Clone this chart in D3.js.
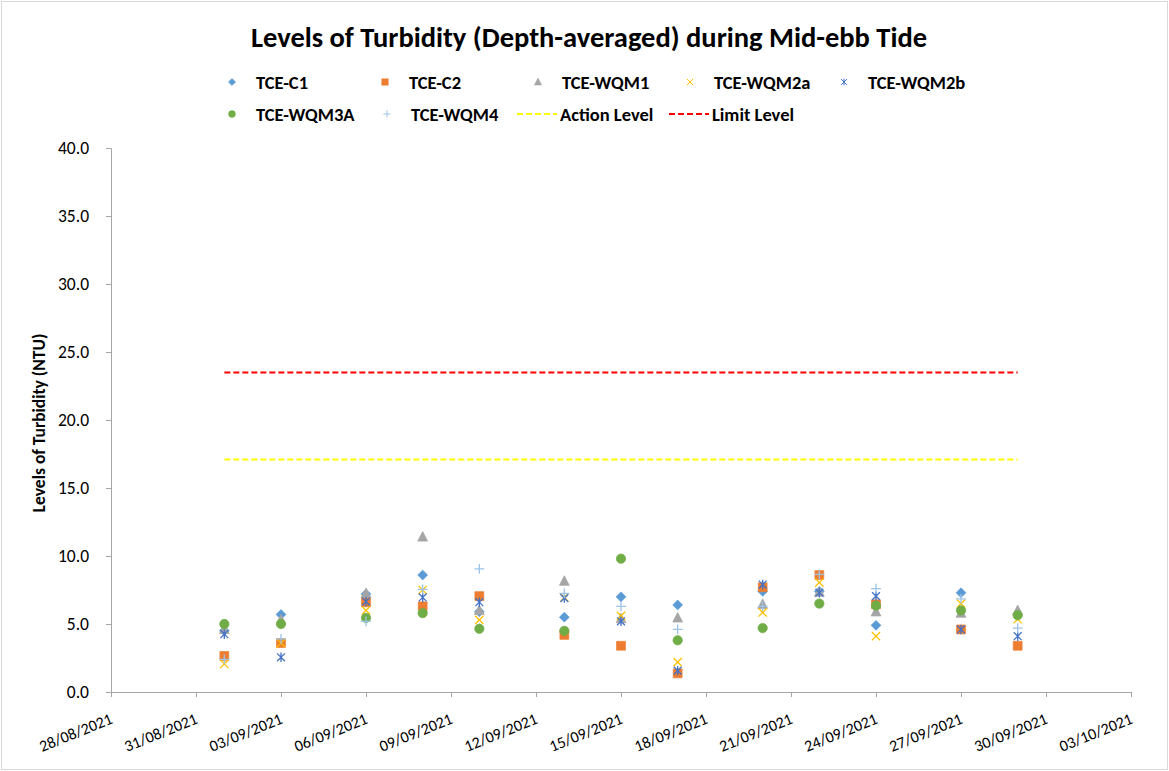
<!DOCTYPE html>
<html>
<head>
<meta charset="utf-8">
<script src="https://cdn.jsdelivr.net/npm/d3@7"></script>
<style>
  body { margin: 0; background: #fff; }
  svg { font-family: Carlito, Calibri, Lato, sans-serif; }
</style>
</head>
<body>
<svg id="chart" width="1169" height="771"></svg>
<script>
// sampling dates and readings (NTU)
var dates = ["01/09/2021", "03/09/2021", "06/09/2021", "08/09/2021", "10/09/2021", "13/09/2021",
  "15/09/2021", "17/09/2021", "20/09/2021", "22/09/2021", "24/09/2021", "27/09/2021", "29/09/2021"];

var tceC1    = [4.5, 5.7, 7.2, 8.6, 5.9, 5.5, 7.0, 6.4, 7.4, 7.4, 4.9, 7.3, 5.7];
var tceC2    = [2.65, 3.6, 6.6, 6.3, 7.05, 4.2, 3.4, 1.37, 7.7, 8.6, 6.45, 4.6, 3.4];
var tceWQM1  = [4.6, 5.3, 7.25, 11.4, 6.0, 8.15, 5.4, 5.45, 6.45, 7.35, 5.9, 5.8, 6.0];
var tceWQM2a = [2.06, 3.6, 6.0, 7.5, 5.3, 6.95, 5.6, 2.2, 5.85, 8.05, 4.1, 6.5, 5.35];
var tceWQM2b = [4.25, 2.55, 6.65, 6.95, 6.6, 6.9, 5.2, 1.57, 7.9, 7.3, 7.05, 4.6, 4.1];
var tceWQM3A = [5.0, 5.0, 5.45, 5.8, 4.65, 4.5, 9.8, 3.8, 4.7, 6.5, 6.35, 6.0, 5.65];
var tceWQM4  = [2.4, 3.9, 5.2, 7.55, 9.05, 7.25, 6.3, 4.6, 6.3, 8.65, 7.6, 6.85, 4.7];

var actionLevel = 17.1;
var limitLevel = 23.5;

var xTickLabels = ["28/08/2021", "31/08/2021", "03/09/2021", "06/09/2021", "09/09/2021", "12/09/2021",
  "15/09/2021", "18/09/2021", "21/09/2021", "24/09/2021", "27/09/2021", "30/09/2021", "03/10/2021"];
var yTicks = [0, 5, 10, 15, 20, 25, 30, 35, 40];

var parse = d3.timeParse("%d/%m/%Y");

// custom marker shapes, size = half-width squared
function half(size) { return Math.sqrt(size); }
var diamond = { draw: function (c, s) { var r = half(s); c.moveTo(0, -r); c.lineTo(r, 0); c.lineTo(0, r); c.lineTo(-r, 0); c.closePath(); } };
var square = { draw: function (c, s) { var r = half(s) * 0.9; c.rect(-r, -r, 2 * r, 2 * r); } };
var triangle = { draw: function (c, s) { var r = half(s); c.moveTo(0, -r * 1.1); c.lineTo(r, r * 0.85); c.lineTo(-r, r * 0.85); c.closePath(); } };
var circle = { draw: function (c, s) { var r = half(s) * 0.95; c.moveTo(r, 0); c.arc(0, 0, r, 0, 2 * Math.PI); } };
var cross = { draw: function (c, s) { var r = half(s) * 0.85; c.moveTo(-r, -r); c.lineTo(r, r); c.moveTo(r, -r); c.lineTo(-r, r); } };
var star = { draw: function (c, s) { var r = half(s) * 0.8; c.moveTo(-r, -r); c.lineTo(r, r); c.moveTo(r, -r); c.lineTo(-r, r); c.moveTo(0, -r * 1.2); c.lineTo(0, r * 1.2); } };
var plus = { draw: function (c, s) { var r = half(s); c.moveTo(-r, 0); c.lineTo(r, 0); c.moveTo(0, -r); c.lineTo(0, r); } };

var series = [
  { name: "TCE-C1", values: tceC1, shape: diamond, color: "#5B9BD5", filled: true },
  { name: "TCE-C2", values: tceC2, shape: square, color: "#ED7D31", filled: true },
  { name: "TCE-WQM1", values: tceWQM1, shape: triangle, color: "#A5A5A5", filled: true },
  { name: "TCE-WQM2a", values: tceWQM2a, shape: cross, color: "#FFC000", filled: false },
  { name: "TCE-WQM2b", values: tceWQM2b, shape: star, color: "#4472C4", filled: false },
  { name: "TCE-WQM3A", values: tceWQM3A, shape: circle, color: "#70AD47", filled: true },
  { name: "TCE-WQM4", values: tceWQM4, shape: plus, color: "#9DC3E6", filled: false }
];

var svg = d3.select("#chart"),
    WIDTH = 1169,
    HEIGHT = 771,
    MARGINS = { top: 148, right: 38, bottom: 79, left: 111 };

svg.append("rect")
  .attr("x", 1.5).attr("y", 1.5)
  .attr("width", WIDTH - 3).attr("height", HEIGHT - 3)
  .attr("fill", "#fff").attr("stroke", "#D9D9D9");

var xScale = d3.scaleTime()
  .domain([parse(xTickLabels[0]), parse(xTickLabels[xTickLabels.length - 1])])
  .range([MARGINS.left, WIDTH - MARGINS.right]);
var yScale = d3.scaleLinear()
  .domain([0, 40])
  .range([HEIGHT - MARGINS.bottom, MARGINS.top]);

// title
svg.append("text")
  .attr("x", 589).attr("y", 47)
  .attr("text-anchor", "middle")
  .attr("font-size", 28.5).attr("font-weight", "bold")
  .text("Levels of Turbidity (Depth-averaged) during Mid-ebb Tide");

// y axis
var yAxis = d3.axisLeft(yScale)
  .tickValues(yTicks)
  .tickSize(5)
  .tickPadding(17)
  .tickFormat(d3.format(".1f"));
var gy = svg.append("g")
  .attr("transform", "translate(" + MARGINS.left + ",0)")
  .call(yAxis);
gy.select(".domain").attr("stroke", "#A6A6A6");
gy.selectAll(".tick line").attr("stroke", "#A6A6A6");
gy.selectAll(".tick text").attr("font-size", 17.5).attr("fill", "#000")
  .attr("font-family", "Carlito, Calibri, Lato, sans-serif");

svg.append("text")
  .attr("transform", "translate(45," + ((MARGINS.top + HEIGHT - MARGINS.bottom) / 2 + 3) + ") rotate(-90)")
  .attr("text-anchor", "middle")
  .attr("font-size", 17.5).attr("font-weight", "bold")
  .text("Levels of Turbidity (NTU)");

// x axis
var xAxis = d3.axisBottom(xScale)
  .tickValues(xTickLabels.map(parse))
  .tickSize(5)
  .tickFormat(d3.timeFormat("%d/%m/%Y"));
var gx = svg.append("g")
  .attr("transform", "translate(0," + (HEIGHT - MARGINS.bottom) + ")")
  .call(xAxis);
gx.select(".domain").attr("stroke", "#A6A6A6");
gx.selectAll(".tick line").attr("stroke", "#A6A6A6");
gx.selectAll(".tick text")
  .attr("font-size", 16).attr("fill", "#000")
  .attr("font-family", "Carlito, Calibri, Lato, sans-serif")
  .attr("text-anchor", "end")
  .attr("dy", null)
  .attr("y", null)
  .attr("transform", "translate(2,31) rotate(-22)");

// threshold lines across the sampling period
var firstDay = parse(dates[0]), lastDay = parse(dates[dates.length - 1]);
[{ v: actionLevel, c: "#FFFF00" }, { v: limitLevel, c: "#FF0000" }].forEach(function (l) {
  svg.append("line")
    .attr("x1", xScale(firstDay)).attr("x2", xScale(lastDay))
    .attr("y1", yScale(l.v)).attr("y2", yScale(l.v))
    .attr("stroke", l.c).attr("stroke-width", 2)
    .attr("stroke-dasharray", "6,3");
});

// points
series.forEach(function (s) {
  var sym = d3.symbol().type(s.shape).size(24);
  svg.append("g").selectAll("path")
    .data(s.values)
    .join("path")
    .attr("transform", function (d, i) { return "translate(" + xScale(parse(dates[i])) + "," + yScale(d) + ")"; })
    .attr("d", sym)
    .attr("fill", s.filled ? s.color : "none")
    .attr("stroke", s.color)
    .attr("stroke-width", s.filled ? 0.75 : 1.3);
});

// legend
var legendItems = series.map(function (s) { return { name: s.name, series: s }; })
  .concat([{ name: "Action Level", line: "#FFFF00" }, { name: "Limit Level", line: "#FF0000" }]);
var legendPos = [[232, 82], [385, 82], [538, 82], [690, 82], [844, 82],
  [232, 114], [387, 114], [537, 114], [689, 114]];
var legend = svg.append("g");
legendItems.forEach(function (it, i) {
  var p = legendPos[i];
  var g = legend.append("g").attr("transform", "translate(" + p[0] + "," + p[1] + ")");
  var tx;
  if (it.series) {
    g.append("path")
      .attr("d", d3.symbol().type(it.series.shape).size(13))
      .attr("fill", it.series.filled ? it.series.color : "none")
      .attr("stroke", it.series.color)
      .attr("stroke-width", it.series.filled ? 0.5 : 1);
    tx = 24;
  } else {
    g.append("line")
      .attr("x1", -20).attr("x2", 20).attr("y1", 0).attr("y2", 0)
      .attr("stroke", it.line).attr("stroke-width", 2)
      .attr("stroke-dasharray", "6,3");
    tx = 23;
  }
  g.append("text")
    .attr("x", tx).attr("y", 6.5)
    .attr("font-size", 18.5).attr("font-weight", "bold")
    .text(it.name);
});
</script>
</body>
</html>
